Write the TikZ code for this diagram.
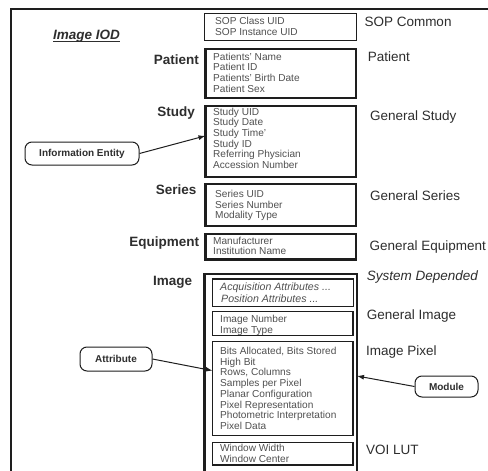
\documentclass[tikz,border=0pt]{standalone}
\usepackage{fontspec}
\setmainfont{Liberation Sans}
\usetikzlibrary{arrows.meta,calc}
\definecolor{ink}{HTML}{1E1E1E}
\definecolor{attrtext}{HTML}{505050}
\definecolor{labeltext}{HTML}{2E2E2E}

\begin{document}
\begin{tikzpicture}[x=1pt,y=-1pt,
  boxbase/.style={draw=ink, anchor=north west, inner sep=0pt, outer sep=0pt},
  thinbox/.style={boxbase, line width=1.2pt},
  midbox/.style={boxbase, line width=2.2pt},
  thickbox/.style={boxbase, line width=2.8pt},
  attrs/.style={anchor=north west, align=left, inner sep=0pt, text=attrtext,
    font=\fontsize{10.1}{10.7}\selectfont},
  entity/.style={anchor=base east, inner sep=0pt, text=labeltext,
    font=\fontsize{13.5}{15}\selectfont\bfseries},
  module/.style={anchor=base west, inner sep=0pt, text=labeltext,
    font=\fontsize{13.5}{15}\selectfont},
  callout/.style={draw=ink, line width=1pt, rounded corners=7pt, inner sep=0pt,
    text=labeltext, font=\fontsize{10}{12}\selectfont\bfseries},
  link/.style={draw=ink, line width=1pt, -{Latex[length=7pt,width=5pt]}}
]
\useasboundingbox (0,0) rectangle (488,471);
\fill[white] (0,0) rectangle (488,471);
\clip (0,0) rectangle (488,471);

% outer frame, running off the page to the right and bottom
\node[boxbase, line width=1.3pt, minimum width=490, minimum height=480] (frame) at (11,9) {};

% title
\node[anchor=base west, inner sep=0pt, text=labeltext,
  font=\fontsize{13.5}{15}\selectfont\bfseries\itshape] (iod) at (53,39.3) {Image IOD};
\draw[labeltext, line width=0.9pt] ($(iod.base west)+(0,2)$) -- ($(iod.base east)+(0,2)$);

% attribute boxes of the information entities
\node[thinbox,  minimum width=152,   minimum height=27]   (sop)     at (204.5,13.5) {};
\node[thickbox, minimum width=150.5, minimum height=49]   (patient) at (205.5,49) {};
\node[thickbox, minimum width=150.5, minimum height=71]   (study)   at (205.5,106) {};
\node[thickbox, minimum width=150.5, minimum height=42]   (series)  at (205.5,184) {};
\node[midbox,   minimum width=150.5, minimum height=25.5] (equip)   at (205.5,234) {};
\node[thickbox, minimum width=152.5, minimum height=210]  (img)     at (204.5,274) {};
\node[thinbox,  minimum width=141,   minimum height=27.5] (acq)     at (212.5,279) {};
\node[thinbox,  minimum width=140.5, minimum height=24]   (gimg)    at (212.5,311.5) {};
\node[thinbox,  minimum width=140.5, minimum height=94]   (pix)     at (212.5,341.5) {};
\node[thinbox,  minimum width=140.5, minimum height=22.5] (voi)     at (212.5,442.5) {};

% attribute lists
\node[attrs] (sopt) at (215,17) {SOP Class UID\\SOP Instance UID};
\node[attrs] (patientt) at (213,52.5) {Patients' Name\\Patient ID\\Patients' Birth Date\\Patient Sex};
\node[attrs] (studyt) at (213,107.5) {Study UID\\Study Date\\Study Time'\\Study ID\\Referring Physician\\Accession Number};
\node[attrs] (seriest) at (215,190) {Series UID\\Series Number\\Modality Type};
\node[attrs, font=\fontsize{10.1}{10.2}\selectfont] (equipt) at (213,236.5) {Manufacturer\\Institution Name};
\node[attrs, font=\fontsize{10.6}{11.8}\selectfont\itshape] (acqt) at (220,283) {Acquisition Attributes ...\\\hspace{1pt}Position Attributes ...};
\node[attrs] (gimgt) at (220,315) {Image Number\\Image Type};
\node[attrs] (pixt) at (220,347) {Bits Allocated, Bits Stored\\High Bit\\Rows, Columns\\Samples per Pixel\\Planar Configuration\\Pixel Representation\\Photometric Interpretation\\Pixel Data};
\node[attrs] (voit) at (220,444) {Window Width\\Window Center};

% information entities
\node[entity] (ePatient) at (199,64) {Patient};
\node[entity] (eStudy)   at (195,116.7) {Study};
\node[entity] (eSeries)  at (196.7,194.3) {Series};
\node[entity] (eEquip)   at (199.3,246.7) {Equipment};
\node[entity] (eImage)   at (192.3,285) {Image};

% modules
\node[module] (mSop)    at (364.3,27) {SOP Common};
\node[module] (mPat)    at (367.7,61.7) {Patient};
\node[module] (mStudy)  at (370,120) {General Study};
\node[module] (mSeries) at (370,200.7) {General Series};
\node[module] (mEquip)  at (369.3,250) {General Equipment};
\node[module, font=\fontsize{13.5}{15}\selectfont\itshape] (mSys) at (366.7,280.7) {System Depended};
\node[module] (mGimg)   at (366.7,319.3) {General Image};
\node[module] (mPix)    at (366,355) {Image Pixel};
\node[module] (mVoi)    at (366,454) {VOI LUT};

% callouts
\node[callout, minimum width=114, minimum height=23] (ie)   at (82,153.5) {Information Entity};
\node[callout, minimum width=72,  minimum height=24] (attr) at (116,359) {Attribute};
\node[callout, minimum width=63,  minimum height=21] (mod)  at (446.5,386.5) {Module};

\draw[link] (ie.east) -- ($(study.north west)!0.42!(study.south west)$);
\draw[link] (attr.east) -- ($(pix.north west)!0.31!(pix.south west)$);
\draw[link] (mod.west) -- ($(img.north east)+(0,102)$);
\end{tikzpicture}
\end{document}
